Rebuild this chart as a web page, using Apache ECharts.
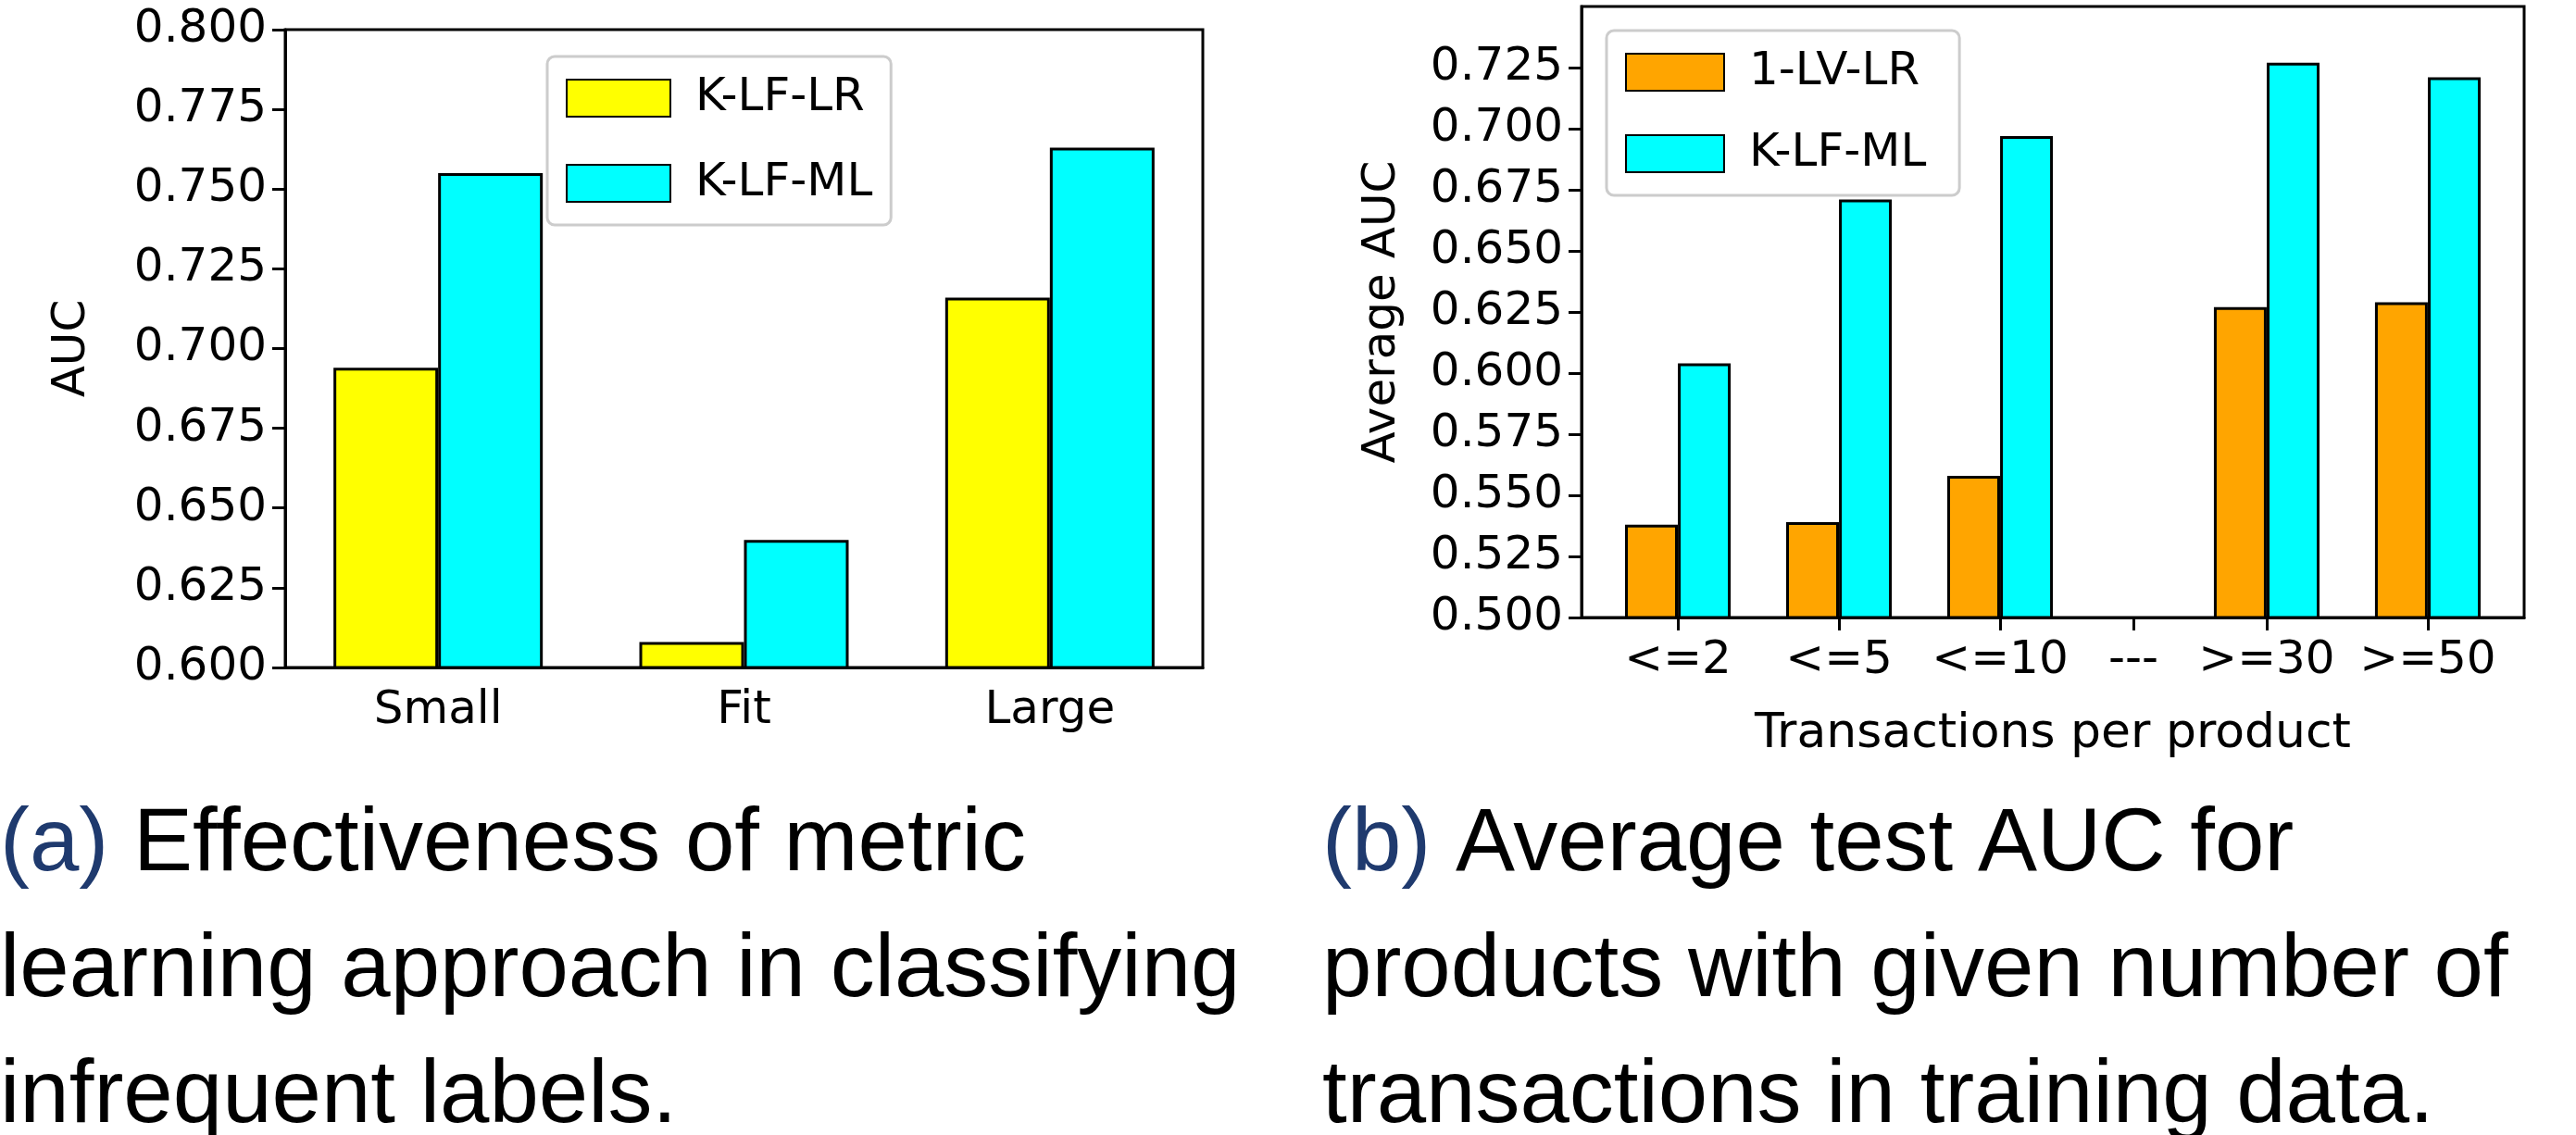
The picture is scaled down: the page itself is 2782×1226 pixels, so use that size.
<!DOCTYPE html>
<html><head><meta charset="utf-8">
<script src="https://cdn.jsdelivr.net/npm/echarts@6/dist/echarts.min.js"></script>
<style>html,body{margin:0;background:#fff}#c{width:2782px;height:1226px}</style>
</head><body><div id="c"></div>
<script>
const catsA = ['Small','Fit','Large'];
const klfLR = [0.694, 0.608, 0.716];
const klfML_A = [0.755, 0.640, 0.763];

const catsB = ['<=2','<=5','<=10','---','>=30','>=50'];
const posB = [0, 1, 2, 2.828, 3.655, 4.655];
const lvLR = [0.538, 0.539, 0.558, null, 0.627, 0.629];
const klfML_B = [0.604, 0.671, 0.697, null, 0.727, 0.721];

const OFF = 0.164;
const F = 'DejaVu Sans';
const lab = {color:'#000', fontSize:50, fontFamily:F};
const CF = '96px "Liberation Sans"';
const chart = echarts.init(document.getElementById('c'));
const ptsB = (vals, d) => vals.map((v,i)=> v==null? null : [posB[i]+d, v]).filter(p=>p);
chart.setOption({
  animation:false,
  grid:[
    {left:308, width:991, top:32, height:689, show:true, borderColor:'#000', borderWidth:3, containLabel:false},
    {left:1708, width:1018, top:7, height:660, show:true, borderColor:'#000', borderWidth:3, containLabel:false}
  ],
  legend:[
    {left:591, top:61, orient:'vertical', itemWidth:112, itemHeight:40, itemGap:42,
     padding:[20,20,20,20], borderColor:'#ccc', borderWidth:3, borderRadius:8,
     textStyle:{fontSize:50, fontFamily:F, color:'#000', padding:[0,0,0,22]}, data:['K-LF-LR','K-LF-ML'], icon:'rect'},
    {left:1735, top:33, orient:'vertical', itemWidth:106, itemHeight:40, itemGap:38,
     padding:[20,20,20,20], borderColor:'#ccc', borderWidth:3, borderRadius:8,
     textStyle:{fontSize:50, fontFamily:F, color:'#000', padding:[0,0,0,22]}, data:['1-LV-LR','K-LF-ML '], icon:'rect'}
  ],
  xAxis:[
    {type:'category', gridIndex:0, data:catsA, axisLine:{lineStyle:{color:'#000',width:3}},
     axisTick:{alignWithLabel:true, length:14, lineStyle:{width:3,color:'#000'}}, axisLabel:{...lab, margin:22}},
    {type:'value', gridIndex:1, min:-0.598, max:5.253, splitLine:{show:false},
     axisLine:{onZero:false, lineStyle:{color:'#000',width:3}},
     axisTick:{show:true, length:14, lineStyle:{width:3,color:'#000'}, customValues:posB},
     axisLabel:{...lab, margin:22, customValues:posB, formatter:(v)=>{const i=posB.findIndex(p=>Math.abs(p-v)<1e-6);return i>=0?catsB[i]:'';}},
     name:'Transactions per product', nameLocation:'middle', nameGap:100, nameTextStyle:{...lab, fontSize:52}}
  ],
  yAxis:[
    {type:'value', gridIndex:0, min:0.6, max:0.8, interval:0.025, splitLine:{show:false},
     axisLine:{show:true, onZero:false, lineStyle:{color:'#000',width:3}}, axisTick:{show:true,length:14,lineStyle:{width:3,color:'#000'}},
     axisLabel:{...lab, margin:20, formatter:v=>v.toFixed(3)},
     name:'AUC', nameLocation:'middle', nameGap:205, nameTextStyle:{...lab}},
    {type:'value', gridIndex:1, min:0.5, max:0.75, interval:0.025, splitLine:{show:false},
     axisLine:{show:true, onZero:false, lineStyle:{color:'#000',width:3}}, axisTick:{show:true,length:14,lineStyle:{width:3,color:'#000'}},
     axisLabel:{...lab, margin:20, showMaxLabel:false, formatter:v=> v>0.7499?'':v.toFixed(3)},
     name:'Average AUC', nameLocation:'middle', nameGap:190, nameTextStyle:{...lab}}
  ],
  series:[
    {name:'K-LF-LR', type:'bar', xAxisIndex:0, yAxisIndex:0, data:klfLR, barWidth:113, barGap:'0%',
     itemStyle:{color:'#ffff00', borderColor:'#000', borderWidth:3}},
    {name:'K-LF-ML', type:'bar', xAxisIndex:0, yAxisIndex:0, data:klfML_A, barWidth:113, barGap:'0%',
     itemStyle:{color:'#00ffff', borderColor:'#000', borderWidth:3}},
    {name:'1-LV-LR', type:'bar', xAxisIndex:1, yAxisIndex:1, data:ptsB(lvLR,-OFF), barWidth:57, barGap:'-100%',
     itemStyle:{color:'#ffa500', borderColor:'#000', borderWidth:3}},
    {name:'K-LF-ML ', type:'bar', xAxisIndex:1, yAxisIndex:1, data:ptsB(klfML_B,OFF), barWidth:57, barGap:'-100%',
     itemStyle:{color:'#00ffff', borderColor:'#000', borderWidth:3}}
  ],
  graphic:[
    {type:'text', left:0, top:846, style:{text:'{p|(a)} Effectiveness of metric\nlearning approach in classifying\ninfrequent labels.', font:CF, fill:'#000', lineHeight:136,
      rich:{p:{fill:'#1f3a6e', font:CF, lineHeight:136}}}},
    {type:'text', left:1428, top:846, style:{text:'{p|(b)} Average test AUC for\nproducts with given number of\ntransactions in training data.', font:CF, fill:'#000', lineHeight:136,
      rich:{p:{fill:'#1f3a6e', font:CF, lineHeight:136}}}}
  ]
});
</script></body></html>
